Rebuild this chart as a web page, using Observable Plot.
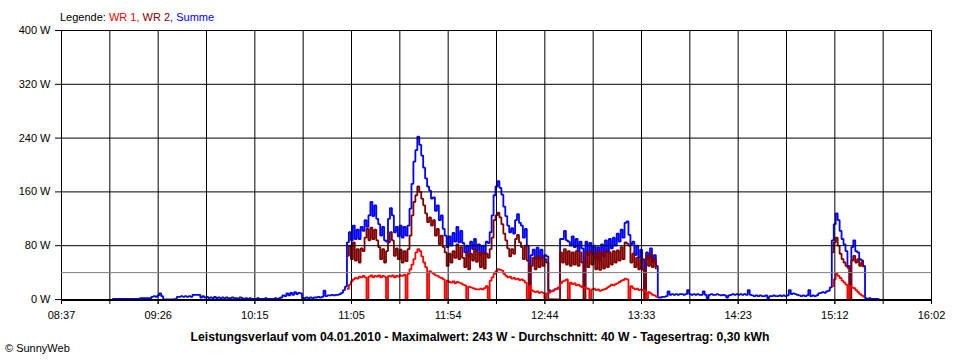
<!DOCTYPE html>
<html>
<head>
<meta charset="utf-8">
<script src="https://cdn.jsdelivr.net/npm/d3@7"></script>
<script src="https://cdn.jsdelivr.net/npm/@observablehq/plot@0.6"></script>
<style>
  html, body { margin: 0; padding: 0; background: #fff; }
  #chart { width: 960px; height: 360px; }
</style>
</head>
<body>
<div id="chart"></div>
<script>
// ---------- axis / labels ----------
const axisStart = "08:37";
const axisEnd = "16:02";
const xTickLabels = ["08:37", "09:26", "10:15", "11:05", "11:54", "12:44", "13:33", "14:23", "15:12", "16:02"];
const yTicks = [0, 80, 160, 240, 320, 400];
const averageW = 40;
const legendTitle = "Legende:";
const seriesNames = ["WR 1", "WR 2", "Summe"];
const seriesColors = ["#ff0000", "#800000", "#0000ff"];
const captionText = "Leistungsverlauf vom 04.01.2010 - Maximalwert: 243 W - Durchschnitt: 40 W - Tagesertrag: 0,30 kWh";
const creditText = "\u00A9 SunnyWeb";

// ---------- data (one value per minute) ----------
const summeStart = "09:03";
const summe = [
  // 09:03 - 11:02
  1,1,1,1,1,1,1,1,1,1,
  1,1,1,1,2,2,2,2,2,2,
  4,5,4,6,9,5,0,0,0,0,
  0,0,1,4,4,5,4,5,4,5,
  4,7,7,7,7,3,5,3,4,2,
  3,2,4,2,3,2,3,2,3,2,
  2,3,2,2,1,3,2,1,2,1,
  2,1,1,1,2,1,1,1,2,1,
  1,1,1,2,1,2,3,6,5,9,
  6,10,7,11,8,10,9,2,2,3,
  2,3,2,3,3,4,3,4,13,5,
  6,6,7,6,7,7,8,10,14,19,
  // 11:03 - 13:42
  85,100,88,110,90,104,90,108,102,118,
  108,125,145,124,140,120,112,95,108,88,
  86,120,136,125,100,108,94,110,92,108,
  95,110,135,172,205,222,242,230,214,196,
  180,168,162,150,152,132,140,118,125,105,
  95,78,94,80,99,86,108,85,102,84,
  70,80,64,86,75,90,72,82,66,80,
  68,86,84,100,125,155,168,176,166,156,
  138,124,110,100,106,98,118,127,114,110,
  92,105,80,22,66,74,60,77,60,74,
  62,66,64,14,12,13,15,16,18,90,
  90,102,88,86,80,94,78,90,72,86,
  76,18,86,66,84,68,80,60,78,58,
  82,64,88,70,90,76,92,80,98,86,
  104,92,114,116,96,82,86,66,80,62,
  74,60,15,70,60,76,56,66,50,3,
  // 13:43 - 15:10
  3,4,4,5,12,7,8,7,8,7,
  8,8,7,8,14,8,7,8,7,8,
  7,7,12,7,2,7,8,7,7,8,
  7,6,7,6,3,6,7,8,7,8,
  7,8,7,8,7,14,7,6,5,6,
  5,6,5,5,6,2,5,5,6,5,
  5,6,5,6,5,6,14,8,9,8,
  7,6,5,6,5,6,14,5,6,5,
  6,9,10,11,10,12,13,18,
  // 15:11 - 15:27
  88,112,128,118,102,90,82,72,50,18,
  78,88,72,70,60,58,50,
  // 15:28 - 15:35
  2,1,2,1,1,1,1,0
];

const wr2StartA = "11:03";
const wr2A = [
  65,80,60,85,58,75,55,76,72,92,
  105,88,107,90,104,88,78,60,75,55,
  72,85,100,88,65,76,60,74,55,72,
  57,75,95,125,145,155,168,160,150,140,
  128,115,122,110,118,95,105,82,95,78,
  70,50,68,55,72,62,82,60,78,62,
  48,70,45,68,58,75,56,70,48,70,
  46,68,62,75,92,118,125,129,122,112,
  98,88,76,64,75,68,90,96,85,78,
  60,80,58,0,50,62,45,65,48,63,
  50,60,55,0,0,0,0,0,0,70,
  55,75,52,72,50,70,52,72,50,70,
  55,0,70,48,72,52,68,45,72,44,
  70,46,72,48,70,52,72,55,73,58,
  78,60,85,83,80,55,68,48,62,45,
  60,44,0,65,50,68,48,60,45
];
const wr2StartB = "15:11";
const wr2B = [70,85,92,80,68,60,55,50,47,0,58,65,55,60,50,55,48];

const wr1StartA = "11:03";
const wr1A = [
  16,22,27,30,32,31,34,33,35,33,
  0,34,36,33,35,34,36,33,35,34,
  0,35,34,36,33,35,34,36,35,37,
  0,38,45,52,60,70,75,72,64,55,
  48,0,42,40,38,36,35,33,32,30,
  0,28,26,25,27,24,26,25,24,22,
  21,0,19,18,17,16,15,15,16,15,
  17,20,0,28,33,38,42,45,44,43,
  38,35,33,34,31,32,30,31,29,30,
  28,25,0,20,14,12,11,12,10,11,
  10,0,9,10,12,13,15,16,18,24,
  27,28,30,0,25,23,24,21,22,20,
  18,18,17,16,0,15,16,14,15,13,
  14,15,16,18,20,22,21,23,24,26,
  28,29,31,30,0,20,17,15,16,14,
  15,14,13,0,11,9,7,6,4,3
];
const wr1StartB = "15:11";
const wr1B = [20,30,38,35,32,28,25,22,0,20,18,17,14,11,8,6,3];

// ---------- helpers ----------
const toMin = s => { const [h, m] = s.split(":").map(Number); return h * 60 + m; };
const rows = (start, values, seg) => values.map((v, i) => ({t: toMin(start) + i, v, seg}));

const sumRows = rows(summeStart, summe, "s");
const wr2Rows = [...rows(wr2StartA, wr2A, "a"), ...rows(wr2StartB, wr2B, "b")];
const wr1Rows = [...rows(wr1StartA, wr1A, "a"), ...rows(wr1StartB, wr1B, "b")];

const t0 = toMin(axisStart), t1 = toMin(axisEnd);
const nIntervals = (xTickLabels.length - 1) * 2;
const gridTicks = d3.range(nIntervals + 1).map(i => t0 + i * (t1 - t0) / nIntervals);
const labelTicks = gridTicks.filter((d, i) => i % 2 === 0);
const labelOf = new Map(labelTicks.map((d, i) => [d, xTickLabels[i]]));

const lineOpts = {x: "t", y: "v", z: "seg", strokeWidth: 1.8, curve: "step-after", strokeLinejoin: "miter", strokeLinecap: "butt"};

const chart = Plot.plot({
  width: 960,
  height: 360,
  marginTop: 30,
  marginBottom: 61,
  marginLeft: 61,
  marginRight: 29,
  style: {fontFamily: "'Liberation Sans', Arial, sans-serif", fontSize: "11px", color: "black", background: "white", overflow: "visible"},
  x: {domain: [t0, t1], axis: null},
  y: {domain: [0, 400], axis: null},
  marks: [
    Plot.line(sumRows, {...lineOpts, stroke: seriesColors[2]}),
    Plot.line(wr2Rows, {...lineOpts, stroke: seriesColors[1]}),
    Plot.line(wr1Rows, {...lineOpts, stroke: seriesColors[0]}),
    Plot.gridX({ticks: gridTicks, stroke: "black", strokeOpacity: 1}),
    Plot.gridY({ticks: yTicks, stroke: "black", strokeOpacity: 1}),
    Plot.ruleY([averageW], {stroke: "#808080"}),
    Plot.ruleY([0], {stroke: "black", strokeWidth: 2, dy: 0.5}),
    Plot.axisY({ticks: yTicks, label: null, tickSize: 6, tickPadding: 5, tickFormat: d => `${d} W`, stroke: "black", fill: "black"}),
    Plot.axisX({ticks: gridTicks, label: null, tickSize: 5, tickFormat: () => "", stroke: "black"}),
    Plot.axisX({ticks: labelTicks, label: null, tickSize: 5, tickPadding: 7, tickFormat: d => labelOf.get(d), stroke: "black", fill: "black"})
  ]
});
document.getElementById("chart").appendChild(chart);

// ---------- legend / caption / credit as real SVG text ----------
const svg = d3.select(chart);
const font = "'Liberation Sans', Arial, sans-serif";
const leg = svg.append("text").attr("x", 60).attr("y", 20.5).attr("text-anchor", "start")
  .attr("font-family", font).attr("font-size", 11).attr("fill", "black");
leg.append("tspan").text(legendTitle + " ");
seriesNames.forEach((n, i) => {
  leg.append("tspan").attr("fill", seriesColors[i]).text(n + (i < seriesNames.length - 1 ? ", " : ""));
});
svg.append("text").attr("x", 480).attr("y", 340.5).attr("text-anchor", "middle")
  .attr("font-family", font).attr("font-size", 12.2).attr("font-weight", "bold").attr("fill", "black")
  .text(captionText);
svg.append("text").attr("x", 5).attr("y", 352).attr("text-anchor", "start")
  .attr("font-family", font).attr("font-size", 11).attr("fill", "black")
  .text(creditText);
</script>
</body>
</html>
